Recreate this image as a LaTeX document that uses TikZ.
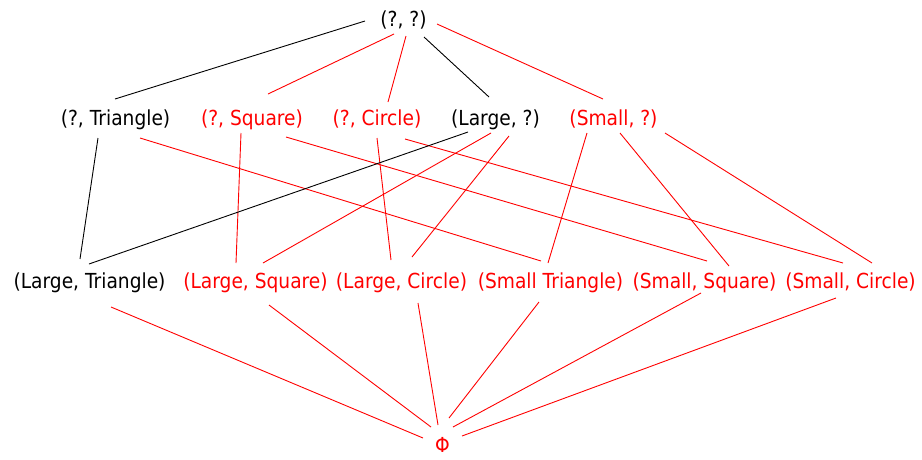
\documentclass[tikz,border=0pt]{standalone}
\usepackage{fontspec}
\setmainfont{DejaVu Sans}[FakeStretch=0.9]
\usetikzlibrary{calc}
\definecolor{lred}{RGB}{255,0,0}
\tikzset{
  lbl/.style={anchor=base, inner sep=0pt, font=\fontsize{20.7}{24}\selectfont},
  rlbl/.style={lbl, text=lred},
  blk/.style={draw=black, line width=0.9pt},
  red/.style={draw=lred, line width=0.9pt},
}
\begin{document}
\begin{tikzpicture}[x=1pt,y=-1pt]
\useasboundingbox (0,0) rectangle (922,459);
% nodes
\node[lbl]  (T)  at (403.5,26) {(?, ?)};
\node[lbl]  (QT) at (115.5,125) {(?, Triangle)};
\node[rlbl] (QS) at (252,125) {(?, Square)};
\node[rlbl] (QC) at (377,125) {(?, Circle)};
\node[lbl]  (LQ) at (495.5,125) {(Large, ?)};
\node[rlbl] (SQ) at (613.5,125) {(Small, ?)};
\node[lbl]  (LT) at (89.5,288) {(Large, Triangle)};
\node[rlbl] (LS) at (255.5,288) {(Large, Square)};
\node[rlbl] (LC) at (401.5,288) {(Large, Circle)};
\node[rlbl] (ST) at (550.5,288) {(Small Triangle)};
\node[rlbl] (SS) at (704.5,288) {(Small, Square)};
\node[rlbl] (SC) at (850.5,288) {(Small, Circle)};
\node[rlbl] (P)  at (442.5,452) {Φ};
% top to middle
\draw[blk] ($(T.base)+(-38.5,-5)$) -- ($(QT.base)+(-0.5,-26)$);
\draw[red] ($(T.base)+(-9.5,8)$) -- ($(QS.base)+(16,-31)$);
\draw[red] ($(T.base)+(2.5,10)$) -- ($(QC.base)+(11,-23)$);
\draw[blk] ($(T.base)+(20.5,11)$) -- ($(LQ.base)+(-6.5,-28)$);
\draw[red] ($(T.base)+(33.5,-2)$) -- ($(SQ.base)+(-10.5,-26)$);
% middle to bottom
\draw[blk] ($(QT.base)+(-17.5,13)$) -- ($(LT.base)+(-9.5,-29)$);
\draw[red] ($(QT.base)+(24.5,13)$) -- ($(ST.base)+(-9.5,-27)$);
\draw[red] ($(QS.base)+(-11,8)$) -- ($(LS.base)+(-19.5,-25)$);
\draw[red] ($(QS.base)+(34,12)$) -- ($(SS.base)+(2.5,-27)$);
\draw[red] ($(QC.base)+(0,13)$) -- ($(LC.base)+(-10.5,-28)$);
\draw[red] ($(QC.base)+(28,14)$) -- ($(SC.base)+(-7.5,-25)$);
\draw[blk] ($(LQ.base)+(-27.5,7)$) -- ($(LT.base)+(-0.5,-24)$);
\draw[red] ($(LQ.base)+(-4.5,8)$) -- ($(LS.base)+(7.5,-25)$);
\draw[red] ($(LQ.base)+(13.5,11)$) -- ($(LC.base)+(10.5,-31)$);
\draw[red] ($(SQ.base)+(-26.5,8)$) -- ($(ST.base)+(-2.5,-25)$);
\draw[red] ($(SQ.base)+(6.5,8)$) -- ($(SS.base)+(24.5,-22)$);
\draw[red] ($(SQ.base)+(51.5,8)$) -- ($(SC.base)+(21.5,-25)$);
% bottom to Phi
\draw[red] ($(LT.base)+(21.5,19)$) -- ($(P.base)+(-19.5,-14)$);
\draw[red] ($(LS.base)+(13.5,17)$) -- ($(P.base)+(-11.5,-25)$);
\draw[red] ($(LC.base)+(16.5,15)$) -- ($(P.base)+(-4.5,-27)$);
\draw[red] ($(ST.base)+(-11.5,14)$) -- ($(P.base)+(6.5,-34)$);
\draw[red] ($(SS.base)+(-3.5,5)$) -- ($(P.base)+(10.5,-25)$);
\draw[red] ($(SC.base)+(-14.5,10)$) -- ($(P.base)+(19.5,-16)$);
\end{tikzpicture}
\end{document}
